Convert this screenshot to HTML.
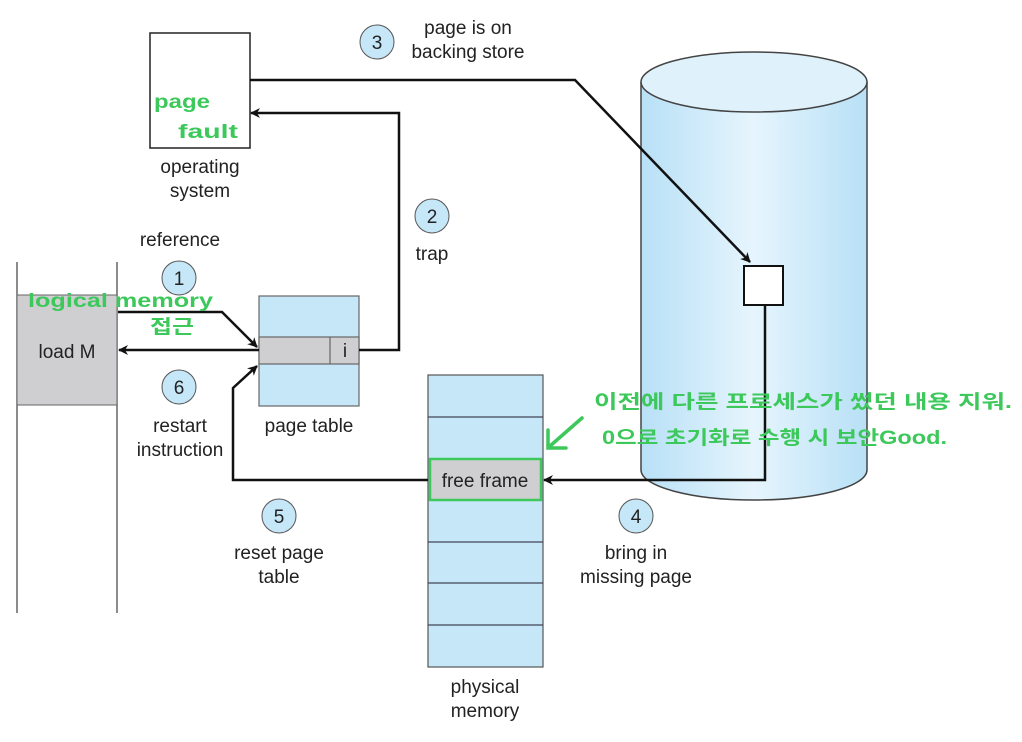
<!DOCTYPE html>
<html><head><meta charset="utf-8"><style>
body{margin:0;background:#fff;}
svg text{font-family:"Liberation Sans",sans-serif;font-size:19px;fill:#222;}
.hw{font-family:"Liberation Sans","Noto Sans CJK KR",sans-serif;fill:#3cc85a;font-weight:bold;}
</style></head><body>
<svg width="1022" height="737" viewBox="0 0 1022 737" xmlns="http://www.w3.org/2000/svg">
<defs>
<linearGradient id="cyl" x1="0" x2="1" y1="0" y2="0">
<stop offset="0" stop-color="#b8e0f6"/><stop offset="0.5" stop-color="#e6f5fd"/><stop offset="1" stop-color="#b8e0f6"/></linearGradient>
<marker id="ah" markerWidth="10" markerHeight="10" refX="9" refY="5" orient="auto" markerUnits="userSpaceOnUse"><path d="M0,0 L10,5 L0,10 L3,5z" fill="#111"/></marker>
</defs>
<path d="M641,82 L641,470 A113,30 0 0 0 867,470 L867,82" fill="url(#cyl)" stroke="#444" stroke-width="1.5"/>
<ellipse cx="754" cy="82" rx="113" ry="30" fill="#dff2fc" stroke="#444" stroke-width="1.5"/>
<rect x="744" y="266" width="39" height="39" fill="#fff" stroke="#111" stroke-width="2"/>
<rect x="150" y="33" width="100" height="115" fill="#fff" stroke="#222" stroke-width="1.5"/>
<text x="200" y="173" text-anchor="middle">operating</text>
<text x="200" y="197" text-anchor="middle">system</text>
<text class="hw" x="154" y="108" font-size="24" textLength="56" lengthAdjust="spacingAndGlyphs">page</text>
<text class="hw" x="178" y="138" font-size="24" textLength="60" lengthAdjust="spacingAndGlyphs">fault</text>
<line x1="17" y1="262" x2="17" y2="613" stroke="#666" stroke-width="1.5"/>
<line x1="117" y1="262" x2="117" y2="613" stroke="#666" stroke-width="1.5"/>
<rect x="17" y="295" width="100" height="110" fill="#cfcfd1" stroke="#666" stroke-width="1"/>
<text x="67" y="358" text-anchor="middle">load M</text>
<text x="180" y="246" text-anchor="middle">reference</text>
<rect x="259" y="296" width="100" height="110" fill="#c6e7f8" stroke="#666" stroke-width="1.2"/>
<rect x="259" y="337" width="100" height="27" fill="#cfcfd1" stroke="#666" stroke-width="1.2"/>
<line x1="330" y1="337" x2="330" y2="364" stroke="#666" stroke-width="1.2"/>
<text x="345" y="357" text-anchor="middle">i</text>
<text x="309" y="432" text-anchor="middle">page table</text>
<rect x="428" y="375" width="115" height="292" fill="#c6e7f8" stroke="#555" stroke-width="1.2"/>
<g stroke="#445" stroke-width="1.2">
<line x1="428" y1="417" x2="543" y2="417"/><line x1="428" y1="542" x2="543" y2="542"/>
<line x1="428" y1="583" x2="543" y2="583"/><line x1="428" y1="625" x2="543" y2="625"/></g>
<rect x="430" y="459" width="111" height="41" fill="#cfcfd1" stroke="#3cc85a" stroke-width="2.5"/>
<text x="485" y="487" text-anchor="middle">free frame</text>
<text x="485" y="693" text-anchor="middle">physical</text>
<text x="485" y="717" text-anchor="middle">memory</text>
<g fill="none" stroke="#111" stroke-width="2.5">
<polyline points="118,312 222,312 257,347" marker-end="url(#ah)"/>
<line x1="259" y1="350" x2="119" y2="350" marker-end="url(#ah)"/>
<polyline points="359,350 399,350 399,113 251,113" marker-end="url(#ah)"/>
<polyline points="250,80 575,80 750,262" marker-end="url(#ah)"/>
<polyline points="765,305 765,480 544,480" marker-end="url(#ah)"/>
<polyline points="428,480 233,480 233,388 257,366" marker-end="url(#ah)"/>
</g>
<g fill="#c6e7f8" stroke="#555" stroke-width="1">
<circle cx="377" cy="42" r="17"/><circle cx="432" cy="216" r="17"/><circle cx="179" cy="278" r="17"/>
<circle cx="179" cy="387" r="17"/><circle cx="279" cy="516" r="17"/><circle cx="636" cy="516" r="17"/></g>
<g text-anchor="middle">
<text x="377" y="49">3</text><text x="432" y="223">2</text><text x="179" y="285">1</text>
<text x="179" y="394">6</text><text x="279" y="523">5</text><text x="636" y="523">4</text>
<text x="468" y="34">page is on</text><text x="468" y="58">backing store</text>
<text x="432" y="260">trap</text>
<text x="180" y="432">restart</text><text x="180" y="456">instruction</text>
<text x="279" y="559">reset page</text><text x="279" y="583">table</text>
<text x="636" y="559">bring in</text><text x="636" y="583">missing page</text>
</g>
<text class="hw" x="28" y="307" font-size="23" textLength="185" lengthAdjust="spacingAndGlyphs">logical memory</text>
<text class="hw" x="150" y="333" font-size="20" textLength="44" lengthAdjust="spacingAndGlyphs">접근</text>
<text class="hw" x="594" y="408" font-size="22" textLength="418" lengthAdjust="spacingAndGlyphs">이전에 다른 프로세스가 썼던 내용 지워.</text>
<text class="hw" x="602" y="444" font-size="22" textLength="345" lengthAdjust="spacingAndGlyphs">0으로 초기화로 수행 시 보안Good.</text>
<path d="M582,418 L550,446 M548,430 L548,448 L566,448" fill="none" stroke="#3cc85a" stroke-width="3.5" stroke-linecap="round"/>
</svg>
</body></html>
